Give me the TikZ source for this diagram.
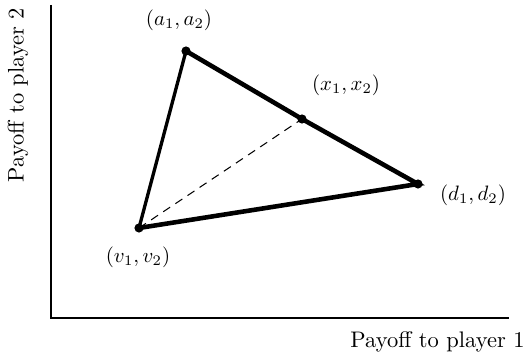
\documentclass[tikz,border=0pt]{standalone}
\usepackage{amsmath}
\usetikzlibrary{positioning}

\begin{document}
\begin{tikzpicture}[
  x=0.48pt,y=-0.48pt,
  pt/.style={circle,fill=black,draw=none,inner sep=0pt,minimum size=4.4pt},
  axis/.style={line width=1.2pt},
  side/.style={line width=2.2pt,line cap=round},
  thinside/.style={line width=1.6pt,line cap=round},
  guide/.style={dashed,line width=0.5pt,dash pattern=on 4pt off 3pt},
  lbl/.style={font=\fontsize{10.4}{12}\selectfont},
  axlbl/.style={font=\fontsize{10.8}{13}\selectfont}
]
\useasboundingbox (0,0) rectangle (525,359);

\coordinate (O)  at (51,318);
\coordinate (Yt) at (51,5);
\coordinate (Xr) at (509,318);

\node[pt] (A) at (186,51)  {};
\node[pt] (X) at (302,119) {};
\node[pt] (D) at (418,184) {};
\node[pt] (V) at (139,228) {};

% axes
\draw[axis] (Yt) -- (O) -- (Xr);

% triangle
\draw[guide] (V.center) -- (X.center);
\draw[thinside] (V.center) -- (A.center);
\draw[side] (A.center) -- (X.center) -- (D.center) -- (V.center);

% labels
\node[lbl] (la) at (179,20)  {$(a_1,a_2)$};
\node[lbl] (lx) at (346,85)  {$(x_1,x_2)$};
\node[lbl] (ld) at (473,195) {$(d_1,d_2)$};
\node[lbl] (lv) at (138,257) {$(v_1,v_2)$};

\node[axlbl,anchor=east,inner sep=0pt] (px) at (525,342) {Payoff to player 1};
\node[axlbl,rotate=90] (py) at (18,95) {Payoff to player 2};
\end{tikzpicture}
\end{document}
